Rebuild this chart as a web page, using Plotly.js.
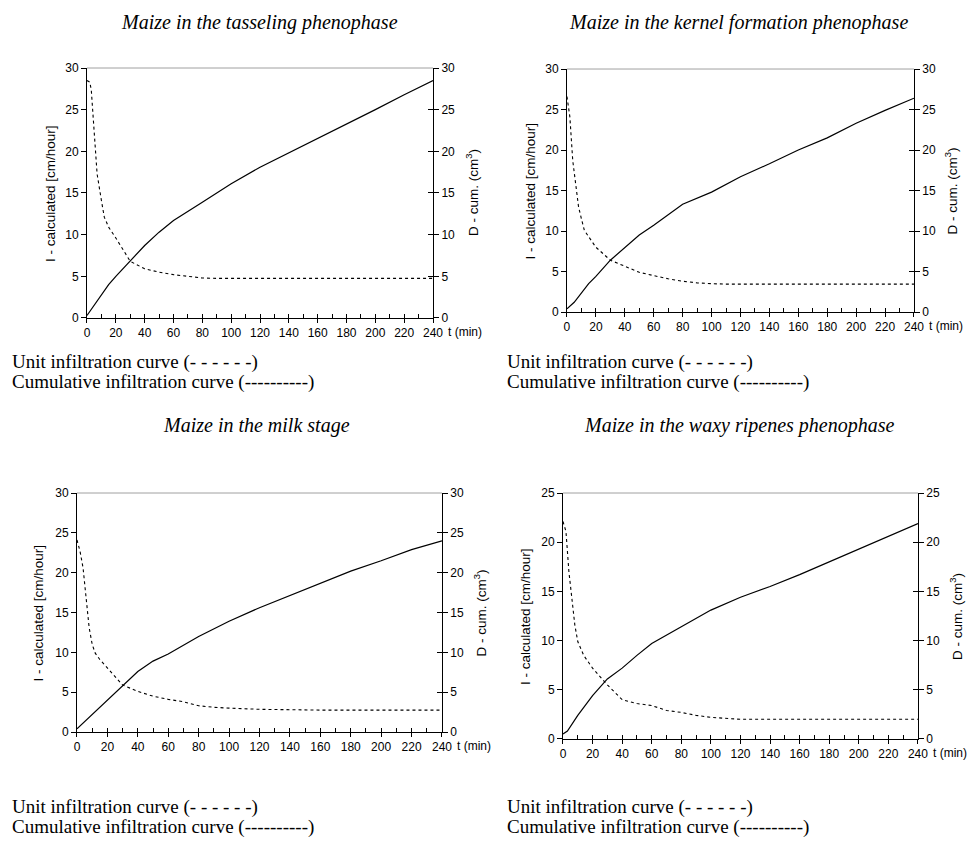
<!DOCTYPE html>
<html><head><meta charset="utf-8">
<script src="https://cdn.plot.ly/plotly-3.0.1.min.js"></script>
<style>html,body{margin:0;padding:0;background:#fff}</style>
</head><body><div id="chart" style="width:972px;height:850px"></div>
<script>
// ---- data ----
const panelTitles = [
  "Maize in the tasseling phenophase",
  "Maize in the kernel formation phenophase",
  "Maize in the milk stage",
  "Maize in the waxy ripenes phenophase"
];
const yMax = [30, 30, 30, 25];
const xTicks = [0,20,40,60,80,100,120,140,160,180,200,220,240];
const legendUnit = "Unit infiltration curve (- - - - - -)";
const legendCum = "Cumulative infiltration curve (----------)";
const leftTitle = "I - calculated [cm/hour]";
const rightTitle = "D - cum. (cm<sup>3</sup>)";
const xUnitLabel = "t (min)";

// Panel 1: tasseling
const tUnit1 = [0,2,3,5,7,10,12,15,20,30,40,50,60,70,80,90,100,240];
const unit1  = [28.5,28.3,27.3,22.1,17.3,14.1,12.1,10.9,9.6,6.8,5.9,5.5,5.2,5.0,4.8,4.75,4.75,4.75];
const tCum1  = [0,5,15,20,30,40,50,60,80,100,120,140,160,180,200,220,240];
const cum1   = [0.3,1.5,4.0,5.0,6.9,8.7,10.3,11.7,13.9,16.1,18.1,19.8,21.6,23.3,25.0,26.8,28.5];

// Panel 2: kernel formation
const tUnit2 = [0,2,4,6,8,10,12,15,20,30,40,50,60,70,80,90,100,110,240];
const unit2  = [26.6,24.1,18.7,15.9,13.0,11.5,10.1,9.3,8.0,6.4,5.6,4.9,4.5,4.1,3.8,3.6,3.5,3.45,3.45];
const tCum2  = [0,5,15,20,30,40,50,60,80,100,120,140,160,180,200,220,240];
const cum2   = [0.4,1.2,3.5,4.4,6.4,8.0,9.5,10.7,13.3,14.8,16.7,18.3,20.0,21.5,23.3,24.9,26.4];

// Panel 3: milk stage
const tUnit3 = [0,2,4,6,8,10,12,15,20,30,40,50,60,70,80,90,100,120,160,240];
const unit3  = [24.1,22.7,20.6,16.4,13.1,11.0,9.9,9.1,8.0,5.9,5.1,4.5,4.1,3.8,3.3,3.1,3.0,2.85,2.75,2.75];
const tCum3  = [0,5,15,20,30,40,50,60,80,100,120,140,160,180,200,220,240];
const cum3   = [0.4,1.3,3.2,4.1,5.9,7.6,8.9,9.8,12.0,13.9,15.6,17.1,18.7,20.2,21.5,22.9,24.0];

// Panel 4: waxy ripeness
const tUnit4 = [0,2,4,6,8,10,14,20,30,40,50,60,70,80,90,100,110,120,240];
const unit4  = [22.1,21.1,17.0,14.3,11.6,9.9,8.5,7.2,5.5,4.0,3.6,3.4,2.9,2.7,2.4,2.2,2.1,2.0,2.0];
const tCum4  = [0,3,10,20,30,40,50,60,80,100,120,140,160,180,200,220,240];
const cum4   = [0.5,0.8,2.4,4.4,6.1,7.2,8.5,9.7,11.4,13.1,14.4,15.5,16.7,18.0,19.3,20.6,21.9];

const tUnit = [tUnit1,tUnit2,tUnit3,tUnit4];
const unitV = [unit1,unit2,unit3,unit4];
const tCum = [tCum1,tCum2,tCum3,tCum4];
const cumV = [cum1,cum2,cum3,cum4];

// ---- layout ----
const dom = [
  {x:[0.0895,0.4455], y:[0.6259,0.920]},
  {x:[0.5833,0.9403], y:[0.6329,0.9188]},
  {x:[0.0792,0.4547], y:[0.1388,0.420]},
  {x:[0.5792,0.9444], y:[0.1306,0.420]}
];
const leftShift = [-36, -36, -38, -37];
const rightShift = [39, 37, 38, 38];
const titlePos = [[0.2665,0.974],[0.760,0.974],[0.264,0.500],[0.760,0.500]];
const legendPos = [[0.0103,0.574,0.5506],[0.5195,0.574,0.5506],[0.0103,0.0506,0.0271],[0.5195,0.0506,0.0271]];

const sans = "Liberation Sans, Arial, sans-serif";
const serif = "Liberation Serif, Times New Roman, serif";
const tickFont = {family: sans, size: 12, color: "#000"};

const layout = {
  width: 972, height: 850,
  margin: {l:0, r:0, t:0, b:0},
  paper_bgcolor: "#fff", plot_bgcolor: "rgba(0,0,0,0)",
  showlegend: false,
  font: {family: sans, color: "#000"},
  annotations: [], shapes: []
};
const data = [];

function id(n){ return n === 1 ? "" : String(n); }

for (let i = 0; i < 4; i++) {
  const p = i + 1;
  const xs = "x" + id(p), ys = "y" + id(p);
  const xo = "x" + (p + 4);
  const yr = "y" + (p + 4), yro = "y" + (p + 8);
  layout["xaxis" + id(p)] = {
    domain: dom[i].x, anchor: ys, range: [0, 240],
    tickmode: "array", tickvals: xTicks, ticktext: xTicks.map(String),
    ticks: "outside", ticklen: 4, tickcolor: "#000", tickwidth: 1,
    showline: true, linecolor: "#000", linewidth: 1,
    showgrid: false, zeroline: false, tickfont: tickFont, fixedrange: true
  };
  layout["xaxis" + (p + 4)] = {
    overlaying: xs, anchor: ys, range: [0, 240], tick0: 0, dtick: 10,
    ticks: "inside", ticklen: 4, tickcolor: "#000", tickwidth: 1,
    showticklabels: false, showline: false, showgrid: false, zeroline: false, fixedrange: true
  };
  layout["yaxis" + id(p)] = {
    domain: dom[i].y, anchor: xs, range: [0, yMax[i]], tick0: 0, dtick: 5,
    ticks: "outside", ticklen: 5, tickcolor: "#000", tickwidth: 1,
    showline: true, linecolor: "#000", linewidth: 1,
    showgrid: false, zeroline: false, tickfont: tickFont, fixedrange: true
  };
  layout["yaxis" + (p + 4)] = {
    overlaying: ys, anchor: xs, side: "right", range: [0, yMax[i]], tick0: 0, dtick: 5,
    ticks: "outside", ticklen: 5, tickcolor: "#000", tickwidth: 1,
    showline: true, linecolor: "#000", linewidth: 1,
    showgrid: false, zeroline: false, tickfont: tickFont, fixedrange: true
  };
  layout["yaxis" + (p + 8)] = {
    overlaying: ys, anchor: xs, side: "right", range: [0, yMax[i]], tick0: 0, dtick: 5,
    ticks: "inside", ticklen: 5, tickcolor: "#000", tickwidth: 1,
    showticklabels: false, showline: false, showgrid: false, zeroline: false, fixedrange: true
  };
  // gray top border
  layout.shapes.push({type: "line", xref: xs + " domain", yref: ys + " domain",
    x0: 0, x1: 1, y0: 1, y1: 1, line: {color: "#a0a0a0", width: 1}});

  data.push({x: tUnit[i], y: unitV[i], xaxis: xs, yaxis: ys, mode: "lines",
    line: {color: "#000", width: 1.1, dash: "dot"}, hoverinfo: "skip"});
  data.push({x: tCum[i], y: cumV[i], xaxis: xs, yaxis: yr, mode: "lines",
    line: {color: "#000", width: 1.2}, hoverinfo: "skip"});
  // invisible traces so the overlay tick axes are drawn
  data.push({x: [0], y: [0], xaxis: xo, yaxis: ys, mode: "markers", marker: {opacity: 0}, hoverinfo: "skip"});
  data.push({x: [0], y: [0], xaxis: xs, yaxis: yro, mode: "markers", marker: {opacity: 0}, hoverinfo: "skip"});

  // axis titles
  layout.annotations.push({text: leftTitle, xref: xs + " domain", yref: ys + " domain",
    x: 0, y: 0.5, xanchor: "center", yanchor: "middle", xshift: leftShift[i], textangle: -90,
    showarrow: false, font: {family: sans, size: 13.5, color: "#000"}});
  layout.annotations.push({text: rightTitle, xref: xs + " domain", yref: ys + " domain",
    x: 1, y: 0.5, xanchor: "center", yanchor: "middle", xshift: rightShift[i], textangle: -90,
    showarrow: false, font: {family: sans, size: 13.5, color: "#000"}});

  layout.annotations.push({text: "<i>" + panelTitles[i] + "</i>", xref: "paper", yref: "paper",
    x: titlePos[i][0], y: titlePos[i][1], xanchor: "center", yanchor: "middle", showarrow: false,
    font: {family: serif, size: 20, color: "#000"}});
  layout.annotations.push({text: legendUnit, xref: "paper", yref: "paper",
    x: legendPos[i][0], y: legendPos[i][1], xanchor: "left", yanchor: "middle", showarrow: false,
    font: {family: serif, size: 19, color: "#000"}});
  layout.annotations.push({text: legendCum, xref: "paper", yref: "paper",
    x: legendPos[i][0], y: legendPos[i][2], xanchor: "left", yanchor: "middle", showarrow: false,
    font: {family: serif, size: 19, color: "#000"}});
  layout.annotations.push({text: xUnitLabel, xref: xs, yref: ys + " domain",
    x: 240, y: 0, xanchor: "left", yanchor: "middle", xshift: 13, yshift: -14, showarrow: false,
    font: {family: sans, size: 12, color: "#000"}});
}

Plotly.newPlot("chart", data, layout, {staticPlot: true, displayModeBar: false});
</script>
</body></html>
